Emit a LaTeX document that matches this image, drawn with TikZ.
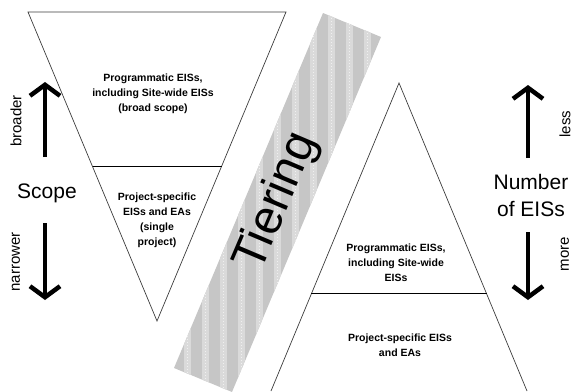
\documentclass[tikz,border=0pt]{standalone}
\usepackage{fontspec}
\setmainfont{Liberation Sans}
\usetikzlibrary{arrows.meta,calc}
\definecolor{bandgray}{RGB}{198,198,198}
\definecolor{stripegray}{RGB}{218,218,218}
\definecolor{edgegray}{RGB}{60,60,60}

\begin{document}
\begin{tikzpicture}[%
    x=1pt,y=-1pt,%
    edge/.style={draw=edgegray,line width=0.7pt},%
    tierline/.style={draw=black,line width=1pt},%
    boxtext/.style={align=center,inner sep=0pt,%
        font=\bfseries\fontsize{10.5}{15}\selectfont},%
    sidelabel/.style={align=center,inner sep=0pt,%
        font=\fontsize{21}{27}\selectfont},%
    smalllabel/.style={rotate=90,inner sep=0pt,%
        font=\fontsize{15}{18}\selectfont},%
    bigarrow/.style={line width=4.5pt,%
        -{Straight Barb[length=11pt,width=30pt]}},%
    ]
\useasboundingbox (0,0) rectangle (573,391);

% the tiering band
\coordinate (b1) at (323,13);
\coordinate (b2) at (381,37);
\coordinate (b3) at (232,392);
\coordinate (b4) at (174,368);
\fill[bandgray] (b1) -- (b2) -- (b3) -- (b4) -- cycle;
\begin{scope}
    \clip (b1) -- (b2) -- (b3) -- (b4) -- cycle;
    \foreach \x in {166,184,...,400}{
        \fill[stripegray] (\x,0) rectangle ++(7,400);
        \draw[white!60!stripegray,line width=1pt,dash pattern=on 1pt off 2pt] (\x+3.5,0) -- ++(0,400);
    }
\end{scope}
\node[rotate=67,inner sep=0pt,font=\fontsize{48}{48}\selectfont] (tier) at (277,202) {Tiering};

% scope triangle
\coordinate (ltl) at (28,12);
\coordinate (ltr) at (286,12);
\coordinate (lap) at (157,321);
\draw[edge] (ltl) -- (ltr) -- (lap) -- cycle;
\draw[tierline] ($(ltl)!0.5!(lap)$) -- ($(ltr)!0.5!(lap)$);

% number triangle
\coordinate (rap) at (399,83);
\coordinate (rbl) at (271,391);
\coordinate (rbr) at (527,391);
\draw[edge] (rbl) -- (rap) -- (rbr);
\draw[tierline] ($(rap)!0.685!(rbl)$) -- ($(rap)!0.685!(rbr)$);

\node[boxtext] (progL) at (153,94) {Programmatic EISs,\\including Site-wide EISs\\(broad scope)};
\node[boxtext] (projL) at (157,220) {Project-specific\\EISs and EAs\\(single\\project)};
\node[boxtext] (progR) at (396,263) {Programmatic EISs,\\including Site-wide\\EISs};
\node[boxtext] (projR) at (400,345) {Project-specific EISs\\and EAs};

% side labels
\node[sidelabel] (scope) at (47,193) {Scope};
\node[sidelabel] (number) at (531,195) {Number\\of EISs};
\node[smalllabel] (broader) at (16,121) {broader};
\node[smalllabel] (narrower) at (16,262) {narrower};
\node[smalllabel] (less) at (565,124) {less};
\node[smalllabel] (more) at (565,254) {more};

\coordinate (sfootup) at (45,157);
\coordinate (stipup) at (45,82);
\coordinate (sfootdn) at (45,223);
\coordinate (stipdn) at (45,300);
\draw[bigarrow] (sfootup) -- (stipup);
\draw[bigarrow] (sfootdn) -- (stipdn);

\coordinate (nfootup) at (528,158);
\coordinate (ntipup) at (528,85);
\coordinate (nfootdn) at (528,232);
\coordinate (ntipdn) at (528,300);
\draw[bigarrow] (nfootup) -- (ntipup);
\draw[bigarrow] (nfootdn) -- (ntipdn);
\end{tikzpicture}
\end{document}
